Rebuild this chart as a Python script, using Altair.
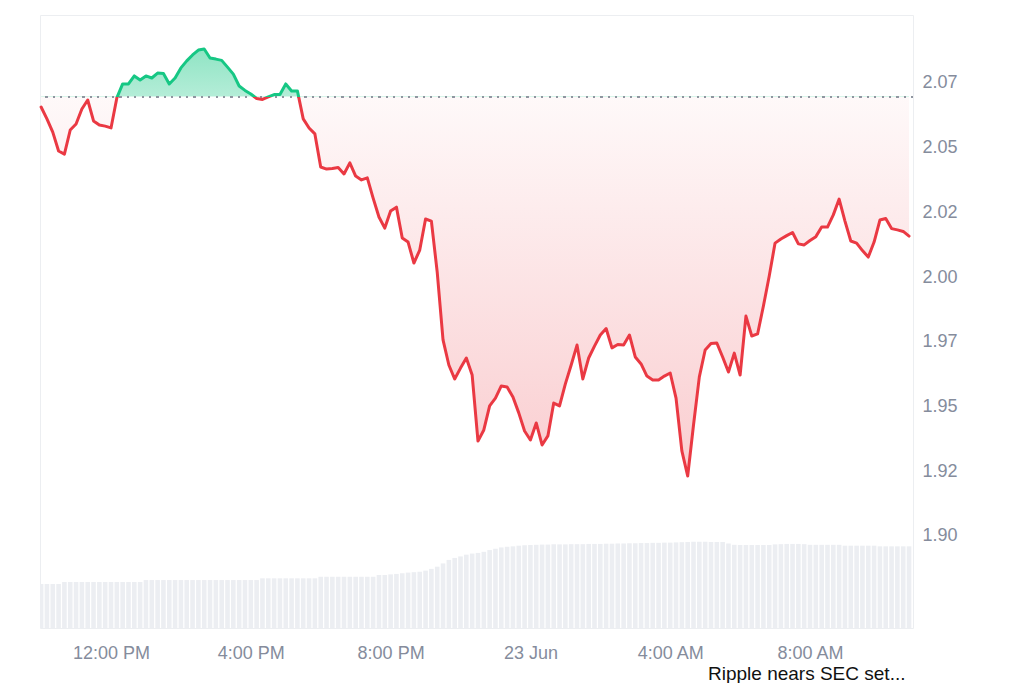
import altair as alt
import pandas as pd

BASE = 2.0697
NEWS = ["Ripple nears SEC set..."]

price = [2.0657, 2.0611, 2.0560, 2.0487, 2.0475, 2.0568, 2.0591, 2.0649, 2.0684, 2.0603,
         2.0587, 2.0583, 2.0576, 2.0692, 2.0746, 2.0746, 2.0777, 2.0761, 2.0777, 2.0769,
         2.0788, 2.0786, 2.0746, 2.0769, 2.0808, 2.0835, 2.0858, 2.0877, 2.0881, 2.0846,
         2.0842, 2.0837, 2.0811, 2.0784, 2.0738, 2.0721, 2.0707, 2.0690, 2.0686, 2.0696,
         2.0705, 2.0705, 2.0746, 2.0719, 2.0719, 2.0611, 2.0576, 2.0553, 2.0425, 2.0417,
         2.0419, 2.0423, 2.0398, 2.0441, 2.0390, 2.0375, 2.0383, 2.0305, 2.0232, 2.0189,
         2.0255, 2.0270, 2.0151, 2.0135, 2.0054, 2.0104, 2.0224, 2.0216, 2.0019, 1.9757,
         1.9660, 1.9606, 1.9648, 1.9687, 1.9621, 1.9366, 1.9409, 1.9502, 1.9532, 1.9579,
         1.9575, 1.9536, 1.9475, 1.9405, 1.9370, 1.9436, 1.9351, 1.9386, 1.9513, 1.9502,
         1.9587, 1.9660, 1.9737, 1.9606, 1.9687, 1.9733, 1.9776, 1.9801, 1.9726, 1.9739,
         1.9737, 1.9776, 1.9691, 1.9664, 1.9617, 1.9602, 1.9602, 1.9617, 1.9629, 1.9532,
         1.9328, 1.9231, 1.9428, 1.9614, 1.9718, 1.9743, 1.9745, 1.9691, 1.9633, 1.9706,
         1.9621, 1.9849, 1.9772, 1.9780, 1.9888, 2.0004, 2.0131, 2.0147, 2.0160, 2.0172,
         2.0128, 2.0124, 2.0141, 2.0156, 2.0193, 2.0193, 2.0240, 2.0301, 2.0216, 2.0139,
         2.0131, 2.0102, 2.0077, 2.0135, 2.0220, 2.0226, 2.0187, 2.0182, 2.0176, 2.0158]

volume = [2.01, 2.01, 2.01, 2.01, 2.10, 2.10, 2.10, 2.10, 2.10, 2.10,
          2.10, 2.10, 2.10, 2.10, 2.10, 2.10, 2.10, 2.10, 2.19, 2.19,
          2.19, 2.19, 2.19, 2.19, 2.19, 2.19, 2.19, 2.19, 2.19, 2.19,
          2.19, 2.19, 2.19, 2.19, 2.19, 2.19, 2.19, 2.19, 2.27, 2.27,
          2.27, 2.27, 2.27, 2.27, 2.27, 2.27, 2.27, 2.27, 2.34, 2.34,
          2.34, 2.34, 2.34, 2.34, 2.34, 2.34, 2.34, 2.34, 2.42, 2.42,
          2.45, 2.47, 2.50, 2.53, 2.55, 2.57, 2.62, 2.70, 2.80, 2.95,
          3.11, 3.20, 3.27, 3.35, 3.40, 3.43, 3.48, 3.56, 3.62, 3.68,
          3.71, 3.73, 3.76, 3.78, 3.79, 3.80, 3.81, 3.81, 3.82, 3.82,
          3.82, 3.83, 3.83, 3.83, 3.84, 3.84, 3.84, 3.85, 3.85, 3.86,
          3.86, 3.87, 3.87, 3.88, 3.88, 3.89, 3.89, 3.90, 3.90, 3.91,
          3.92, 3.93, 3.94, 3.94, 3.94, 3.93, 3.93, 3.93, 3.86, 3.80,
          3.79, 3.79, 3.79, 3.79, 3.79, 3.79, 3.82, 3.83, 3.84, 3.84,
          3.84, 3.83, 3.80, 3.80, 3.80, 3.80, 3.80, 3.80, 3.76, 3.76,
          3.76, 3.76, 3.76, 3.76, 3.73, 3.73, 3.73, 3.73, 3.73, 3.73]

y_ticks = [1.90, 1.925, 1.95, 1.975, 2.00, 2.025, 2.05, 2.075]

times = pd.date_range("2025-06-22 10:00", periods=len(price), freq="10min")
df = pd.DataFrame({"time": times, "price": price, "volume": volume})

GREEN = "#16c784"
RED = "#ea3943"
LABEL = "#858c9c"
FONT = "Liberation Sans"

pmax, pmin = max(price), min(price)
off = (pmax - BASE) / (pmax - pmin)

line_grad = alt.Gradient(
    gradient="linear", x1=0, x2=0, y1=0, y2=1,
    stops=[alt.GradientStop(color=GREEN, offset=0),
           alt.GradientStop(color=GREEN, offset=off),
           alt.GradientStop(color=RED, offset=off),
           alt.GradientStop(color=RED, offset=1)])
area_grad = alt.Gradient(
    gradient="linear", x1=0, x2=0, y1=0, y2=1,
    stops=[alt.GradientStop(color="rgba(22,199,132,0.48)", offset=0),
           alt.GradientStop(color="rgba(22,199,132,0.32)", offset=off),
           alt.GradientStop(color="rgba(234,57,67,0.03)", offset=off),
           alt.GradientStop(color="rgba(234,57,67,0.25)", offset=1)])

x_dom = [alt.DateTime(year=2025, month=6, date=22, hours=9, minutes=58, seconds=6),
         alt.DateTime(year=2025, month=6, date=23, hours=10, minutes=56, seconds=48)]
x_vals = [alt.DateTime(year=2025, month=6, date=22, hours=12),
          alt.DateTime(year=2025, month=6, date=22, hours=16),
          alt.DateTime(year=2025, month=6, date=22, hours=20),
          alt.DateTime(year=2025, month=6, date=23, hours=0),
          alt.DateTime(year=2025, month=6, date=23, hours=4),
          alt.DateTime(year=2025, month=6, date=23, hours=8)]

x_enc = alt.X(
    "time:T", title=None,
    scale=alt.Scale(domain=x_dom, nice=False, padding=0),
    axis=alt.Axis(values=x_vals, ticks=False, domain=False, grid=False,
                  labelExpr="hours(datum.value) == 0 ? timeFormat(datum.value, '%-d %b') : timeFormat(datum.value, '%-I:%M %p')",
                  labelFontSize=18, labelColor=LABEL, labelFont=FONT,
                  labelPadding=16, labelFlush=False, labelOverlap=False))

y_price = alt.Y(
    "price:Q", title=None,
    scale=alt.Scale(domain=[1.86437, 2.10124], nice=False, zero=False),
    axis=alt.Axis(orient="right", values=y_ticks, ticks=False, domain=False,
                  labelExpr="format(floor(datum.value * 100 + 0.0001) / 100, '.2f')",
                  gridColor="#eceef1", gridWidth=1,
                  labelFontSize=18, labelColor=LABEL, labelFont=FONT,
                  labelPadding=9))

base = alt.Chart(df)

bars = base.mark_bar(size=4.6, color="#eceef2", clip=True).encode(
    x=x_enc,
    y=alt.Y("volume:Q", scale=alt.Scale(domain=[0, 28], padding=0), axis=None),
)

area = base.mark_area(interpolate="linear", color=area_grad).encode(
    x=x_enc, y=y_price, y2=alt.datum(BASE))

rule = base.mark_rule(color="#8f959f", strokeWidth=1.4, strokeDash=[1.4, 6]).encode(
    y=alt.datum(BASE))

line = base.mark_line(interpolate="linear", stroke=line_grad, strokeWidth=3,
                      strokeJoin="round", strokeCap="round").encode(
    x=x_enc, y=y_price)

price_layer = alt.layer(area, rule, line)

news = alt.Chart(pd.DataFrame({"t": NEWS})).mark_text(
    align="left", baseline="alphabetic", fontSize=19, font=FONT, color="#111111"
).encode(text="t:N", x=alt.value(668), y=alt.value(665))

chart = alt.layer(bars, price_layer, news).resolve_scale(y="independent").properties(
    width=873, height=613,
    autosize=alt.AutoSizeParams(type="none"),
    padding={"left": 32, "top": 7, "right": 103, "bottom": 55},
    background="white",
).configure_view(stroke="#eceef1", strokeWidth=1)

chart.save("out.html", embed_options={"renderer": "svg", "actions": False})
